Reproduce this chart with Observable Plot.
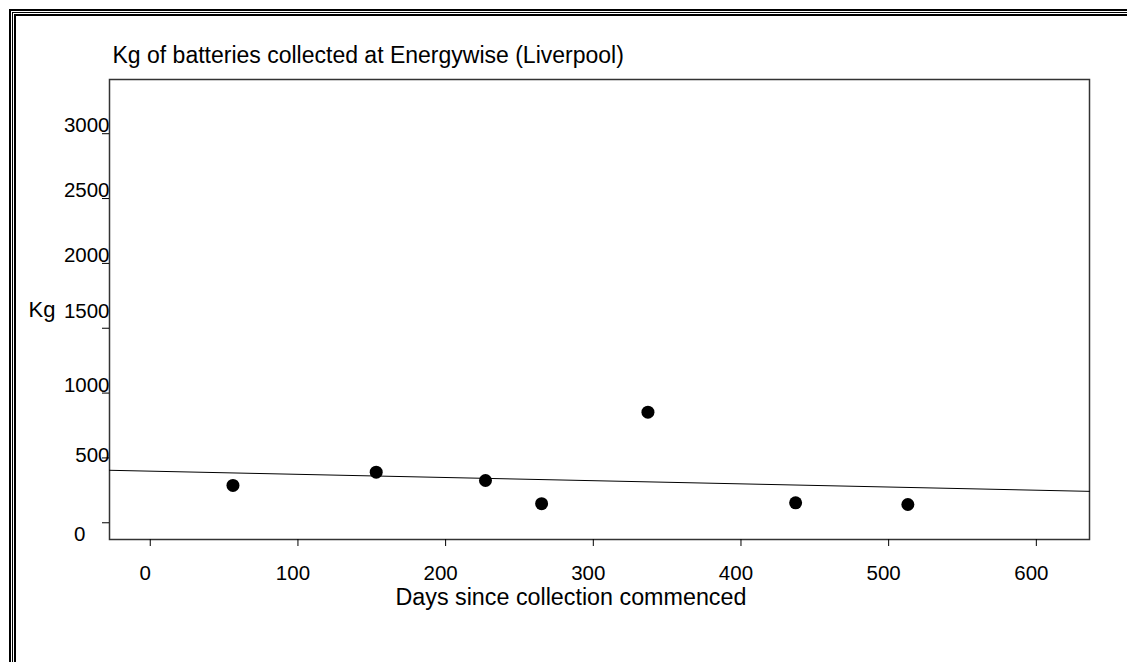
<!DOCTYPE html>
<html>
<head>
<meta charset="utf-8">
<script src="https://cdn.jsdelivr.net/npm/d3@7"></script>
<script src="https://cdn.jsdelivr.net/npm/@observablehq/plot@0.6"></script>
<style>
  html, body { margin: 0; padding: 0; background: #fff; overflow: hidden; }
  body { width: 1127px; height: 662px; position: relative; font-family: "Liberation Sans", Arial, sans-serif; }
  #b1 { position: absolute; left: 9px; top: 9px; width: 1300px; height: 900px; box-sizing: border-box; border: 2px solid #000; padding: 1px; }
  #b2 { width: 100%; height: 100%; box-sizing: border-box; border: 1px solid #000; padding: 1px; }
  #b3 { width: 100%; height: 100%; box-sizing: border-box; border: 2px solid #000; }
  #chart { position: absolute; left: 0; top: 0; }
</style>
</head>
<body>
<div id="b1"><div id="b2"><div id="b3"></div></div></div>
<div id="chart"></div>
<script>
// Data
const days = [56, 153, 227, 265, 337, 437, 513];
const kg = [288, 390, 326, 147, 853, 154, 141];

const xTicks = [0, 100, 200, 300, 400, 500, 600];
const yTicks = [0, 500, 1000, 1500, 2000, 2500, 3000];
const xDomain = [-27.6, 636];
const yDomain = [-129, 3418];

const titleText = "Kg of batteries collected at Energywise (Liverpool)";
const xLabel = "Days since collection commenced";
const yLabel = "Kg";

const points = days.map((d, i) => ({day: d, kg: kg[i]}));

// Least-squares trend line, drawn across the whole x domain
const mx = d3.mean(days), my = d3.mean(kg);
const slope = d3.sum(days, (x, i) => (x - mx) * (kg[i] - my)) / d3.sum(days, x => (x - mx) ** 2);
const intercept = my - slope * mx;
const trend = xDomain.map(x => ({day: x, kg: intercept + slope * x}));

const font = "'Liberation Sans', Arial, sans-serif";

// the original's y tick labels sit slightly off their tick marks
const labelShiftY = t => (t === 0 ? 12 : t === 500 ? -2 : t === 1500 ? -17 : -8);
const labelShiftX = t => (t === 0 ? -24 : 0);
const yTextAxes = yTicks.map(t =>
  Plot.axisY({ticks: [t], tickSize: 0, tickPadding: 0, dx: labelShiftX(t), dy: labelShiftY(t), label: null, tickFormat: d => String(d)})
);

const plot = Plot.plot({
  width: 1127,
  height: 662,
  marginLeft: 109,
  marginRight: 38,
  marginTop: 79,
  marginBottom: 123,
  style: {fontFamily: font, fontSize: "20.5px", color: "#000", background: "transparent", overflow: "visible"},
  x: {domain: xDomain},
  y: {domain: yDomain},
  marks: [
    Plot.frame({stroke: "#333", strokeWidth: 1.5}),
    Plot.axisX({ticks: xTicks, tickSize: 7, text: null, stroke: "#000", label: null}),
    Plot.axisX({ticks: xTicks, tickSize: 0, tickPadding: 26, dx: -5, label: null, tickFormat: d => String(d)}),
    Plot.axisY({ticks: yTicks, tickSize: 7, text: null, stroke: "#000", label: null}),
    ...yTextAxes,
    Plot.line(trend, {x: "day", y: "kg", stroke: "#000", strokeWidth: 1}),
    Plot.dot(points, {x: "day", y: "kg", r: 6.5, fill: "#000", stroke: "none"}),
    Plot.text([titleText], {frameAnchor: "top-left", text: d => d, textAnchor: "start", lineAnchor: "middle", dx: 3, dy: -24, fontSize: 23, fill: "#000"}),
    Plot.text([yLabel], {frameAnchor: "left", text: d => d, textAnchor: "start", lineAnchor: "middle", dx: -81, dy: 0, fontSize: 22, fill: "#000"}),
    Plot.text([xLabel], {frameAnchor: "bottom-left", text: d => d, textAnchor: "start", lineAnchor: "middle", dx: 286, dy: 58, fontSize: 23.3, fill: "#000"})
  ]
});
document.getElementById("chart").appendChild(plot);
</script>
</body>
</html>
